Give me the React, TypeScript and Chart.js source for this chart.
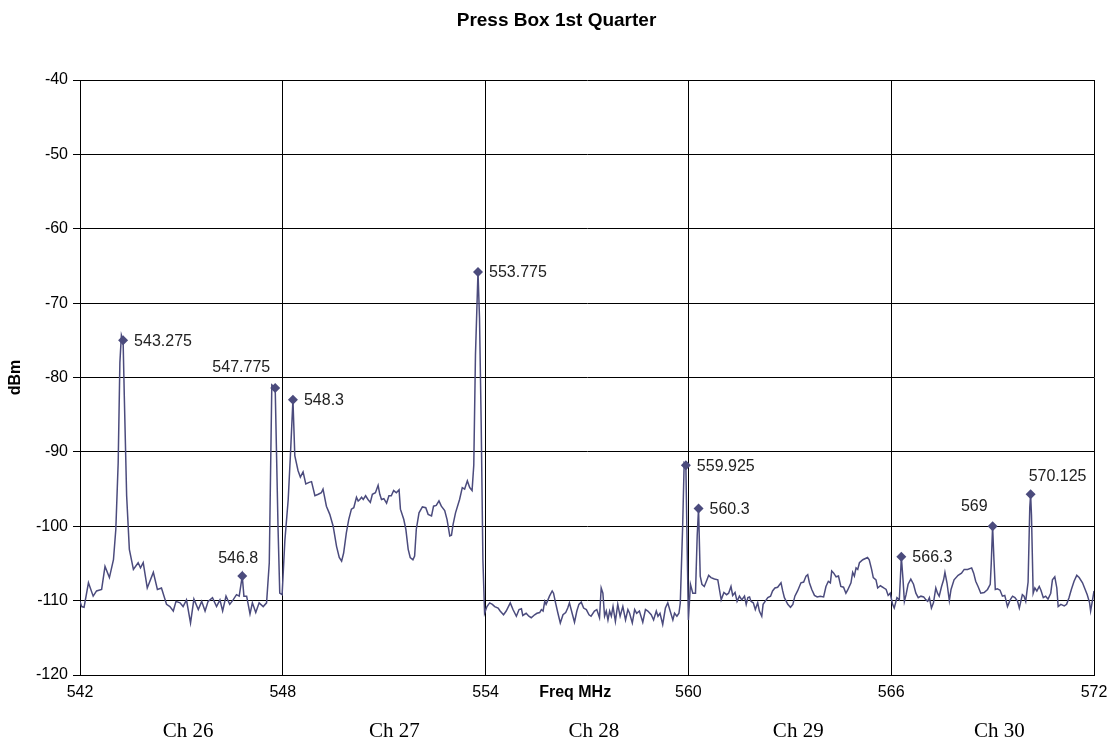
import { useEffect, useRef } from 'react';
import { Chart, registerables } from 'chart.js';

Chart.register(...registerables);

// ---- Data ----
const traceFreqMHz = [
  542.0, 542.05, 542.12, 542.25, 542.39, 542.49, 542.64, 542.74, 542.87, 542.99,
  543.06, 543.13, 543.18, 543.225, 543.275, 543.31, 543.38, 543.46, 543.58, 543.72,
  543.79, 543.87, 543.99, 544.17, 544.29, 544.41, 544.56, 544.66, 544.76, 544.84,
  544.96, 545.05, 545.15, 545.27, 545.37, 545.5, 545.6, 545.7, 545.79, 545.92,
  546.04, 546.14, 546.22, 546.32, 546.43, 546.53, 546.63, 546.71, 546.8, 546.85,
  546.93, 547.03, 547.1, 547.2, 547.3, 547.42, 547.52, 547.6, 547.675, 547.725,
  547.775, 547.86, 547.91, 547.98, 548.06, 548.16, 548.23, 548.3, 548.355, 548.45,
  548.52, 548.6, 548.68, 548.78, 548.85, 548.95, 549.05, 549.14, 549.19, 549.29,
  549.39, 549.49, 549.59, 549.67, 549.74, 549.8, 549.88, 549.95, 550.03, 550.1,
  550.18, 550.23, 550.28, 550.33, 550.38, 550.45, 550.52, 550.59, 550.65, 550.74,
  550.82, 550.87, 550.92, 550.99, 551.07, 551.14, 551.21, 551.28, 551.36, 551.44,
  551.48, 551.58, 551.64, 551.71, 551.77, 551.85, 551.9, 551.95, 552.03, 552.13,
  552.23, 552.3, 552.4, 552.46, 552.54, 552.62, 552.69, 552.79, 552.86, 552.94,
  552.99, 553.04, 553.11, 553.23, 553.31, 553.38, 553.46, 553.53, 553.6, 553.65,
  553.7, 553.775, 553.82, 553.87, 553.92, 553.97, 554.04, 554.12, 554.2, 554.27,
  554.37, 554.43, 554.53, 554.61, 554.73, 554.81, 554.91, 554.99, 555.06, 555.1,
  555.2, 555.28, 555.35, 555.45, 555.52, 555.6, 555.65, 555.7, 555.75, 555.79,
  555.89, 555.97, 556.01, 556.07, 556.14, 556.21, 556.29, 556.37, 556.43, 556.48,
  556.56, 556.63, 556.7, 556.76, 556.83, 556.9, 556.98, 557.06, 557.12, 557.22,
  557.29, 557.37, 557.42, 557.47, 557.52, 557.57, 557.62, 557.67, 557.72, 557.77,
  557.84, 557.91, 557.98, 558.06, 558.14, 558.21, 558.26, 558.34, 558.41, 558.47,
  558.55, 558.65, 558.73, 558.8, 558.9, 558.97, 559.05, 559.1, 559.16, 559.24,
  559.32, 559.39, 559.46, 559.54, 559.59, 559.66, 559.72, 559.76, 559.83, 559.875,
  559.925, 559.975, 560.0, 560.06, 560.13, 560.21, 560.26, 560.3, 560.35, 560.4,
  560.47, 560.55, 560.6, 560.67, 560.77, 560.87, 560.97, 561.05, 561.13, 561.19,
  561.26, 561.31, 561.38, 561.44, 561.51, 561.58, 561.66, 561.71, 561.76, 561.81,
  561.85, 561.92, 561.98, 562.05, 562.1, 562.17, 562.21, 562.27, 562.35, 562.43,
  562.49, 562.56, 562.64, 562.74, 562.79, 562.84, 562.94, 563.02, 563.09, 563.15,
  563.23, 563.33, 563.41, 563.48, 563.53, 563.58, 563.65, 563.73, 563.81, 563.9,
  564.0, 564.07, 564.14, 564.2, 564.24, 564.3, 564.37, 564.44, 564.51, 564.59,
  564.66, 564.71, 564.81, 564.86, 564.91, 564.96, 565.01, 565.06, 565.16, 565.3,
  565.35, 565.42, 565.47, 565.55, 565.6, 565.68, 565.78, 565.85, 565.91, 565.97,
  566.04, 566.09, 566.17, 566.24, 566.27, 566.3, 566.35, 566.39, 566.44, 566.5,
  566.58, 566.66, 566.73, 566.8, 566.88, 566.96, 567.03, 567.08, 567.13, 567.19,
  567.25, 567.32, 567.37, 567.42, 567.49, 567.55, 567.59, 567.65, 567.72, 567.77,
  567.86, 567.98, 568.08, 568.16, 568.26, 568.38, 568.44, 568.5, 568.57, 568.65,
  568.75, 568.85, 568.93, 568.96, 569.0, 569.04, 569.08, 569.14, 569.22, 569.29,
  569.36, 569.44, 569.52, 569.59, 569.66, 569.74, 569.79, 569.835, 569.88, 569.93,
  569.98, 570.05, 570.1, 570.125, 570.15, 570.2, 570.25, 570.31, 570.38, 570.43,
  570.5, 570.57, 570.64, 570.72, 570.77, 570.84, 570.9, 570.94, 571.02, 571.12,
  571.19, 571.26, 571.33, 571.41, 571.49, 571.56, 571.66, 571.73, 571.8, 571.87,
  571.9, 571.95, 572.0,
];

const traceLevelDbm = [
  -110.1, -110.8, -110.9, -107.6, -109.4, -108.7, -108.5, -105.4, -106.9, -104.5,
  -100.4, -91.4, -78, -74.3, -75, -82.4, -95.9, -103.1, -105.8, -104.9,
  -105.6, -104.9, -108.3, -106.2, -108.5, -108.3, -110.5, -110.8, -111.4, -110.1,
  -110.3, -110.8, -109.9, -113, -109.8, -111.2, -110.1, -111.4, -110.1, -109.6,
  -110.8, -109.9, -111.4, -109.4, -110.5, -109.9, -109.2, -109.4, -106.7, -109.4,
  -109.4, -111.8, -110.3, -111.6, -110.3, -110.8, -110.3, -104.9, -81, -81.2,
  -81.4, -100.4, -109, -109.2, -102, -96.4, -90, -83, -90.5, -92.5,
  -93.4, -92.7, -94.3, -94.1, -94, -95.9, -95.7, -95.5, -95, -97.3,
  -98.4, -100, -102.7, -104.2, -104.7, -103.6, -100.9, -99.1, -97.7, -97.5,
  -96.1, -96.6, -96.4, -96.1, -96.4, -95.9, -96.4, -96.8, -95.7, -95.5,
  -94.5, -95.7, -96.4, -96.3, -96.9, -95.9, -95.9, -95.2, -95.5, -95.1,
  -97.7, -99.1, -100.4, -103.1, -104.2, -104.5, -104, -100.4, -98.2, -97.4,
  -97.5, -98.4, -98.6, -97.3, -97.2, -96.6, -97.3, -97.9, -99.1, -101.3,
  -101.2, -99.7, -98.2, -96.4, -94.8, -95, -93.9, -94.8, -95.2, -91.8,
  -77, -65.8, -72, -86.4, -104.5, -111.7, -110.8, -110.3, -110.5, -110.8,
  -111, -111.4, -111.9, -111.4, -110.3, -111.2, -112.1, -111.2, -111.1, -112,
  -111.7, -112.1, -112.3, -111.9, -111.7, -111.6, -111.2, -111.4, -110.1, -110.5,
  -109.4, -108.7, -109, -110.3, -111.7, -113, -111.9, -111.6, -111, -110.3,
  -111.7, -112.9, -111.4, -110.5, -110.2, -111, -111.2, -111.9, -112.1, -111.4,
  -111.2, -112.3, -108.3, -109, -112.1, -111.4, -112.6, -111.4, -112.1, -110.8,
  -112.8, -110.5, -112.1, -110.8, -112.6, -111.2, -111.7, -113, -111.2, -111.7,
  -111.4, -112.9, -111.2, -111.4, -111.9, -112.6, -111.4, -112.1, -111.7, -113.2,
  -111, -110.3, -111.4, -112.6, -111.7, -112.1, -111.7, -110.3, -100, -91.5,
  -91.8, -106, -112.6, -107.8, -109, -109, -101.3, -97.6, -106.7, -107.8,
  -108.1, -107.2, -106.6, -106.9, -107.1, -107.2, -109.9, -108.9, -109.2, -109,
  -108.1, -109.3, -108.9, -110.1, -109.4, -109.9, -109.4, -110.5, -109.6, -109.5,
  -110.1, -110.3, -111.2, -110.3, -111.4, -112.1, -110.5, -110.1, -109.6, -109.4,
  -108.7, -108.3, -108.2, -107.6, -108.7, -109.6, -110.5, -110.9, -110.5, -109.4,
  -108.7, -107.6, -107.5, -106.7, -106.5, -107.6, -108.5, -109.3, -109.5, -109.4,
  -109.5, -108.1, -107.4, -107.6, -106, -106.3, -106.8, -106.7, -108.1, -108.2,
  -109, -108.6, -107.6, -106.2, -106.7, -105.6, -105.8, -104.9, -104.5, -104.2,
  -104.5, -105.8, -106.9, -107.2, -108.3, -108, -108.3, -108.5, -109.3, -109,
  -110.5, -111, -109.6, -109.9, -107.2, -104.1, -107.2, -110.1, -109.2, -107.8,
  -107.1, -107.8, -109, -109.6, -109.4, -109.5, -109.9, -110.1, -109.6, -111,
  -110.3, -108.3, -109, -109.4, -108.1, -107.2, -106.2, -107.6, -110, -108.5,
  -107.2, -106.6, -106.3, -105.8, -105.8, -105.6, -106.3, -107.4, -108.1, -109,
  -108.9, -108.5, -107.8, -105, -100, -104.5, -108.5, -108.4, -108.6, -109.4,
  -109.3, -110.8, -109.9, -109.4, -109.6, -110.1, -111, -110.1, -109.2, -109.4,
  -110.1, -107.5, -97.5, -95.7, -98.5, -109, -108.3, -108.7, -108.1, -108.6,
  -109.6, -109.4, -109.8, -109, -107.2, -106.8, -108.3, -110.8, -110.5, -110.7,
  -110.5, -109.6, -108.5, -107.4, -106.6, -106.9, -107.6, -108.4, -109.2, -110.3,
  -111.4, -110.1, -108.7,
];

const peakFreqMHz = [543.275, 546.8, 547.775, 548.3, 553.775, 559.925, 560.3, 566.3, 569, 570.125];
const peakLevelDbm = [-75, -106.7, -81.4, -83, -65.8, -91.8, -97.6, -104.1, -100, -95.7];
const peakLabels = ['543.275', '546.8', '547.775', '548.3', '553.775', '559.925', '560.3', '566.3', '569', '570.125'];
const peakLabelSide = ['right', 'above', 'aboveLeft', 'right', 'right', 'right', 'right', 'right', 'aboveLeft', 'aboveRight'];

const xTickValues = [542, 548, 554, 560, 566, 572];
const yTickValues = [-120, -110, -100, -90, -80, -70, -60, -50, -40];

const channelNames = ['Ch 26', 'Ch 27', 'Ch 28', 'Ch 29', 'Ch 30'];
const channelLabelMHz = [545.2, 551.3, 557.2, 563.25, 569.2];

const chartTitle = 'Press Box 1st Quarter';
const xAxisTitle = 'Freq MHz';
const yAxisTitle = 'dBm';

const TRACE_COLOR = '#4b4b7d';
const SANS = '"Liberation Sans", Arial, sans-serif';
const SERIF = '"Liberation Serif", "Times New Roman", serif';

const annotationPlugin = {
  id: 'annotationPlugin',
  afterDatasetsDraw(chart: any) {
    const ctx = chart.ctx;
    const xs = chart.scales.x;
    const ys = chart.scales.y;
    const area = chart.chartArea;
    ctx.save();
    ctx.fillStyle = '#000';

    // Title
    ctx.font = `bold 19px ${SANS}`;
    ctx.textAlign = 'center';
    ctx.textBaseline = 'alphabetic';
    ctx.fillText(chartTitle, chart.width / 2, 26);

    // Y axis title
    ctx.save();
    ctx.translate(16, (area.top + area.bottom) / 2);
    ctx.rotate(-Math.PI / 2);
    ctx.font = `bold 16px ${SANS}`;
    ctx.textAlign = 'center';
    ctx.textBaseline = 'middle';
    ctx.fillText(yAxisTitle, 0, 0);
    ctx.restore();

    // X axis title (sits in the tick-label row)
    ctx.font = `bold 16px ${SANS}`;
    ctx.textAlign = 'center';
    ctx.textBaseline = 'alphabetic';
    ctx.fillText(xAxisTitle, xs.getPixelForValue(556.65), area.bottom + 22);

    // Channel labels
    ctx.font = `21px ${SERIF}`;
    channelNames.forEach((name, i) => {
      ctx.fillText(name, xs.getPixelForValue(channelLabelMHz[i]), area.bottom + 62);
    });

    // Peak labels
    ctx.font = `16px ${SANS}`;
    ctx.fillStyle = '#222';
    ctx.textBaseline = 'middle';
    peakLabels.forEach((label, i) => {
      const px = xs.getPixelForValue(peakFreqMHz[i]);
      const py = ys.getPixelForValue(peakLevelDbm[i]);
      const side = peakLabelSide[i];
      if (side === 'right') {
        ctx.textAlign = 'left';
        ctx.fillText(label, px + 11, py + 1);
      } else if (side === 'above') {
        ctx.textAlign = 'center';
        ctx.fillText(label, px - 4, py - 17);
      } else if (side === 'aboveLeft') {
        ctx.textAlign = 'right';
        ctx.fillText(label, px - 5, py - 20);
      } else {
        ctx.textAlign = 'left';
        ctx.fillText(label, px - 2, py - 18);
      }
    });
    ctx.restore();
  },
};

export default function App() {
  const canvasRef = useRef<HTMLCanvasElement | null>(null);

  useEffect(() => {
    const canvas = canvasRef.current;
    if (!canvas) return;
    const traceData = traceFreqMHz.map((f, i) => ({ x: f, y: traceLevelDbm[i] }));
    const peakData = peakFreqMHz.map((f, i) => ({ x: f, y: peakLevelDbm[i] }));

    const chart = new Chart(canvas, {
      type: 'scatter',
      data: {
        datasets: [
          {
            label: 'Peaks',
            data: peakData,
            showLine: false,
            pointStyle: 'rectRot',
            pointRadius: 5,
            backgroundColor: TRACE_COLOR,
            borderColor: TRACE_COLOR,
            borderWidth: 0,
            order: 0,
          },
          {
            label: 'Spectrum',
            data: traceData,
            showLine: true,
            pointRadius: 0,
            borderColor: TRACE_COLOR,
            borderWidth: 1.5,
            tension: 0,
            order: 1,
          },
        ],
      },
      options: {
        responsive: false,
        animation: false,
        devicePixelRatio: 1,
        layout: { padding: { left: 0, right: 19, top: 80, bottom: 0 } },
        plugins: {
          legend: { display: false },
          tooltip: { enabled: false },
          title: { display: false },
        },
        scales: {
          x: {
            type: 'linear',
            min: 542,
            max: 572,
            afterBuildTicks: (s: any) => {
              s.ticks = xTickValues.map((v) => ({ value: v }));
            },
            afterFit: (s: any) => {
              s.height = 69;
              s.paddingLeft = 0;
              s.paddingRight = 0;
            },
            grid: { color: '#000', lineWidth: 1, drawTicks: false },
            border: { color: '#000', width: 1 },
            ticks: {
              padding: 8,
              color: '#000',
              font: { family: SANS, size: 16 },
              maxRotation: 0,
              autoSkip: false,
            },
          },
          y: {
            type: 'linear',
            min: -120,
            max: -40,
            afterBuildTicks: (s: any) => {
              s.ticks = yTickValues.map((v) => ({ value: v }));
            },
            afterFit: (s: any) => {
              s.width = 80;
              s.paddingTop = 0;
              s.paddingBottom = 0;
            },
            grid: { color: '#000', lineWidth: 1, drawTicks: true, tickLength: 7, tickColor: '#000' },
            border: { color: '#000', width: 1 },
            ticks: {
              padding: 5,
              color: '#000',
              font: { family: SANS, size: 16 },
              autoSkip: false,
            },
          },
        },
      },
      plugins: [annotationPlugin],
    });
    return () => chart.destroy();
  }, []);

  return (
    <div style={{ position: 'fixed', left: 0, top: 0, width: 1113, height: 744, background: '#fff' }}>
      <canvas ref={canvasRef} width={1113} height={744} style={{ width: 1113, height: 744, display: 'block' }} />
    </div>
  );
}
